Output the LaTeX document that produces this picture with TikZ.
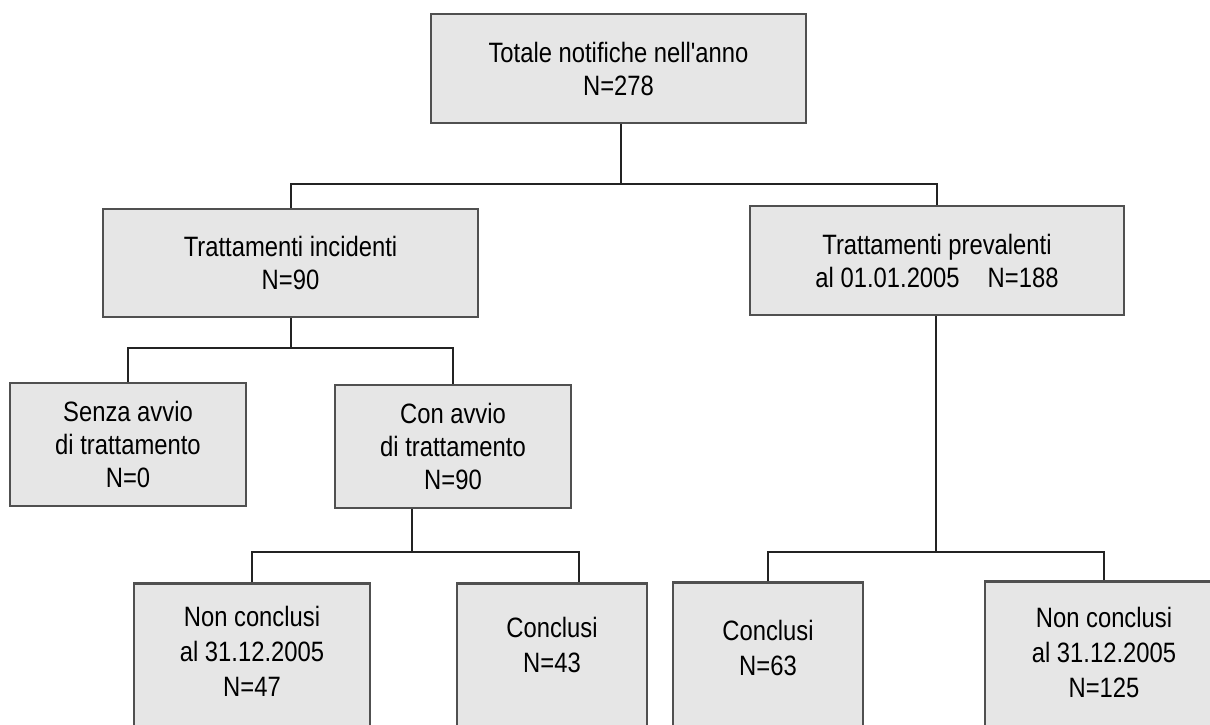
\documentclass[tikz,border=0pt]{standalone}
\usepackage{fontspec}
\setmainfont{Liberation Sans}[FakeStretch=0.85,Ligatures=TeXOff]
\definecolor{boxfill}{RGB}{230,230,230}
\definecolor{boxline}{RGB}{80,80,80}
\definecolor{conn}{RGB}{35,35,35}
\tikzset{
  box/.style={draw=boxline, fill=boxfill, line width=2.6pt, rectangle, inner sep=0pt,
    align=center, font=\fontsize{28}{33}\selectfont},
  txt/.style={align=center, inner sep=0pt, font=\fontsize{28}{35}\selectfont},
  link/.style={draw=conn, line width=2pt}
}
\begin{document}
\begin{tikzpicture}[x=1pt,y=-1pt]
\useasboundingbox (0,0) rectangle (1210,724);
\clip (0,0) rectangle (1210,724);
% boxes
\node[box, minimum width=375pt, minimum height=109pt] (top) at (618.5,68.5) {Totale notifiche nell'anno\\N=278};
\node[box, minimum width=375pt, minimum height=108pt] (inc) at (290.5,263) {Trattamenti incidenti\\N=90};
\node[box, minimum width=374pt, minimum height=109pt] (prev) at (937,260.5) {Trattamenti prevalenti\\al 01.01.2005\hspace{28pt}N=188};
\node[box, minimum width=236pt, minimum height=123pt] (senza) at (128,444.5) {Senza avvio\\di trattamento\\N=0};
\node[box, minimum width=236pt, minimum height=123pt] (con) at (453,446.5) {Con avvio\\di trattamento\\N=90};
\node[box, minimum width=236pt, minimum height=180pt, anchor=north] (ncl) at (252,582) {};
\node[box, minimum width=190pt, minimum height=180pt, anchor=north] (cl) at (552,582) {};
\node[box, minimum width=190pt, minimum height=180pt, anchor=north] (cr) at (768,581) {};
\node[box, minimum width=236pt, minimum height=180pt, anchor=north] (ncr) at (1103,580) {};
% texts of the lower boxes
\node[txt] (nclt) at (252,651) {Non conclusi\\al 31.12.2005\\N=47};
\node[txt] (clt) at (552,645) {Conclusi\\N=43};
\node[txt] (crt) at (768,648) {Conclusi\\N=63};
\node[txt] (ncrt) at (1104,652) {Non conclusi\\al 31.12.2005\\N=125};
% junction points
\coordinate (j1) at (621,184);
\coordinate (j2) at (291,348);
\coordinate (j3) at (412,552);
\coordinate (j4) at (936,552);
% connectors
\draw[link] (top.south -| j1) -- (j1);
\draw[link] (inc.north) |- (j1) -| (prev.north);
\draw[link] (inc.south -| j2) -- (j2);
\draw[link] (senza.north) |- (j2) -| (con.north);
\draw[link] (con.south -| j3) -- (j3);
\draw[link] (ncl.north) |- (j3) -| ([xshift=27pt]cl.north);
\draw[link] (prev.south -| j4) -- (j4);
\draw[link] (cr.north) |- (j4) -| ([xshift=1pt]ncr.north);
\end{tikzpicture}
\end{document}
